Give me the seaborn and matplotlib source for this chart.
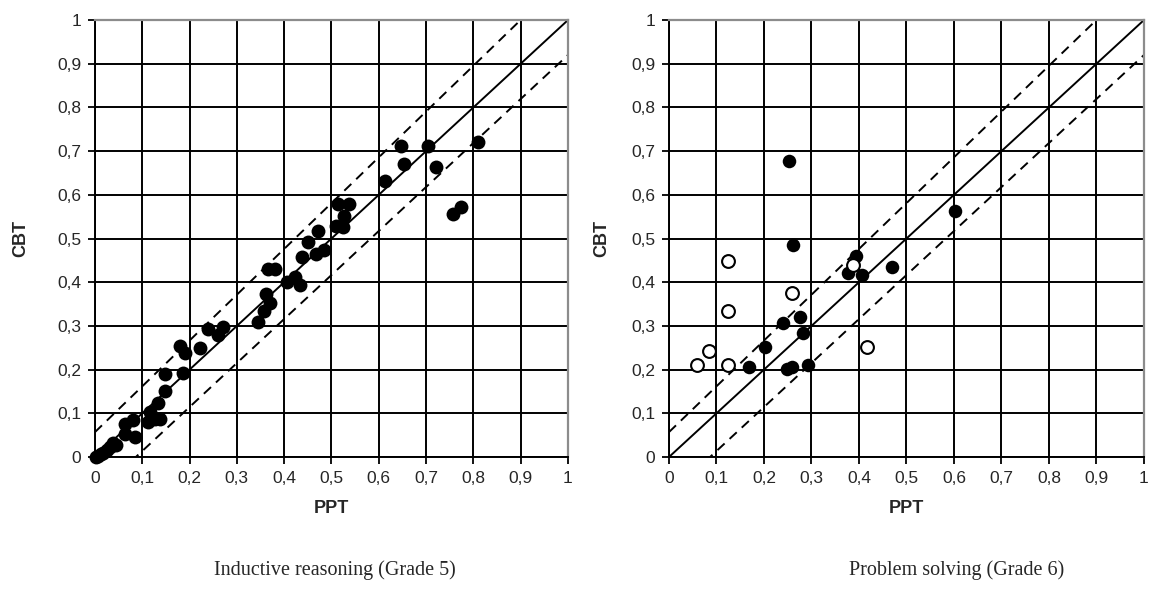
import numpy as np
import pandas as pd
import matplotlib
matplotlib.use('Agg')
import matplotlib.pyplot as plt
import seaborn as sns

# Inductive reasoning (Grade 5): PPT vs CBT
ind_ppt = [0.003, 0.007, 0.012, 0.018, 0.025, 0.032, 0.039, 0.045, 0.063, 0.063,
           0.080, 0.085, 0.113, 0.116, 0.127, 0.137, 0.134, 0.148, 0.148, 0.187,
           0.180, 0.190, 0.222, 0.240, 0.261, 0.271, 0.345, 0.358, 0.362, 0.371,
           0.366, 0.381, 0.405, 0.423, 0.433, 0.437, 0.451, 0.467, 0.472, 0.485,
           0.510, 0.524, 0.527, 0.514, 0.536, 0.613, 0.654, 0.648, 0.705, 0.721,
           0.756, 0.773, 0.810]
ind_cbt = [0.000, 0.003, 0.006, 0.010, 0.016, 0.022, 0.031, 0.028, 0.053, 0.075,
           0.085, 0.046, 0.081, 0.104, 0.088, 0.086, 0.123, 0.152, 0.191, 0.193,
           0.254, 0.237, 0.249, 0.294, 0.279, 0.297, 0.310, 0.335, 0.373, 0.353,
           0.431, 0.431, 0.401, 0.413, 0.394, 0.458, 0.491, 0.464, 0.518, 0.474,
           0.529, 0.527, 0.551, 0.578, 0.578, 0.632, 0.670, 0.712, 0.712, 0.664,
           0.555, 0.573, 0.720]

# Problem solving (Grade 6): filled and open markers
ps_fill_ppt = [0.253, 0.602, 0.262, 0.393, 0.376, 0.406, 0.469, 0.276, 0.241,
               0.283, 0.202, 0.169, 0.248, 0.258, 0.292]
ps_fill_cbt = [0.678, 0.564, 0.485, 0.460, 0.422, 0.416, 0.435, 0.321, 0.307,
               0.284, 0.252, 0.205, 0.201, 0.207, 0.211]
ps_open_ppt = [0.124, 0.124, 0.258, 0.388, 0.085, 0.060, 0.124, 0.417]
ps_open_cbt = [0.449, 0.335, 0.376, 0.439, 0.243, 0.211, 0.210, 0.252]

# reference lines: identity and dashed band
line_x = [0.0, 1.0]
ident_y = [0.0, 1.0]
upper_y = [0.057, 1.105]
lower_y = [-0.087, 0.92]

ticks = np.round(np.arange(0, 1.01, 0.1), 1)
tick_labels = ['0' if t == 0 else ('1' if t == 1 else str(t).replace('.', ',')) for t in ticks]

sns.set_style('white')
plt.rcParams['font.family'] = ['Liberation Sans', 'DejaVu Sans']

fig = plt.figure(figsize=(11.58, 5.94), dpi=100)
ax1 = fig.add_axes([0.0820, 0.2306, 0.4085, 0.7357])
ax2 = fig.add_axes([0.5777, 0.2306, 0.4102, 0.7357])

dash = (0, (5, 3.5))


def style_ax(ax):
    ax.set_xlim(0, 1)
    ax.set_ylim(0, 1)
    ax.set_xticks(ticks)
    ax.set_yticks(ticks)
    ax.set_xticklabels(tick_labels, fontsize=12.5)
    ax.set_yticklabels(tick_labels, fontsize=12.5)
    ax.grid(True, color='black', linewidth=1.4)
    ax.set_axisbelow(True)
    ax.tick_params(axis='both', direction='out', length=5, width=1.3,
                   color='black', bottom=True, left=True, pad=5)
    for s in ['top', 'right']:
        ax.spines[s].set_color('#8c8c8c')
        ax.spines[s].set_linewidth(1.6)
    for s in ['left', 'bottom']:
        ax.spines[s].set_color('black')
        ax.spines[s].set_linewidth(1.4)
    ax.plot(line_x, ident_y, color='black', lw=1.4)
    ax.plot(line_x, upper_y, color='black', lw=1.4, ls=dash)
    ax.plot(line_x, lower_y, color='black', lw=1.4, ls=dash)


style_ax(ax1)
style_ax(ax2)

df1 = pd.DataFrame({'PPT': ind_ppt, 'CBT': ind_cbt})
sns.scatterplot(data=df1, x='PPT', y='CBT', ax=ax1, color='black', s=100,
                edgecolor='black', linewidth=0, clip_on=False, zorder=5)

df2f = pd.DataFrame({'PPT': ps_fill_ppt, 'CBT': ps_fill_cbt})
df2o = pd.DataFrame({'PPT': ps_open_ppt, 'CBT': ps_open_cbt})
sns.scatterplot(data=df2f, x='PPT', y='CBT', ax=ax2, color='black', s=95,
                edgecolor='black', linewidth=0, zorder=5)
sns.scatterplot(data=df2o, x='PPT', y='CBT', ax=ax2, color='white', s=85,
                edgecolor='black', linewidth=1.5, zorder=6)

for ax, pad in ((ax1, 20), (ax2, 15)):
    ax.set_xlabel('PPT', fontsize=13, fontweight='bold', labelpad=10)
    ax.set_ylabel('CBT', fontsize=13, fontweight='bold', labelpad=pad)

fig.text(0.289, 0.04, 'Inductive reasoning (Grade 5)', family='Liberation Serif',
         fontsize=14.5, ha='center', va='center')
fig.text(0.8265, 0.04, 'Problem solving (Grade 6)', family='Liberation Serif',
         fontsize=14.5, ha='center', va='center')

fig.savefig('out.png', dpi=100)
